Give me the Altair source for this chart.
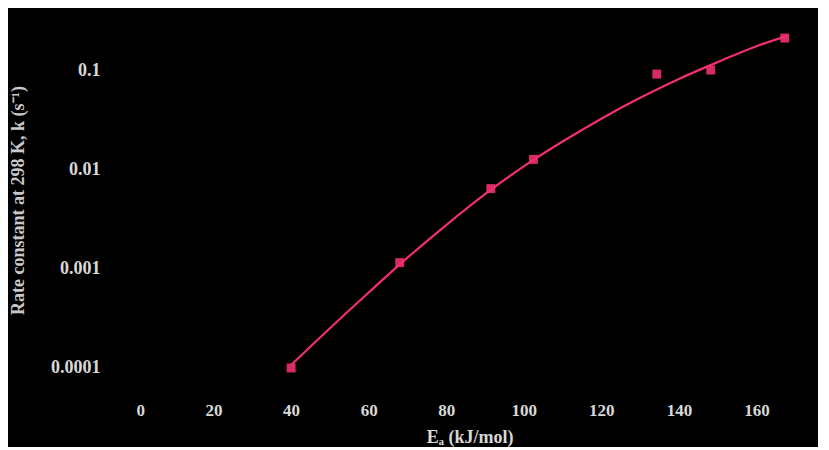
import altair as alt
import pandas as pd

# Fitted curve
curve_x = [40, 50, 60, 70, 80, 90, 100, 110, 120, 130, 140, 150, 160, 168]
curve_y = [1.07e-4, 2.51e-4, 5.75e-4, 1.29e-3, 2.75e-3, 5.62e-3, 0.01072,
           0.01905, 0.03236, 0.05248, 0.08128, 0.1202, 0.1738, 0.2208]

# Measured points
pt_x = [40, 68, 91.5, 102.5, 134.3, 148.2, 167.3]
pt_y = [1.0e-4, 1.15e-3, 6.4e-3, 0.0126, 0.091, 0.1, 0.21]

x_ticks = [0, 20, 40, 60, 80, 100, 120, 140, 160]
y_ticks = [0.0001, 0.001, 0.01, 0.1]

PINK = "#f0306e"
FONT = "Liberation Serif"

curve = pd.DataFrame({"x": curve_x, "y": curve_y})
pts = pd.DataFrame({"x": pt_x, "y": pt_y})

xs = alt.Scale(domain=[0, 172], nice=False, zero=False)
ys = alt.Scale(type="log", domain=[6e-5, 0.35], nice=False)

xax = alt.Axis(values=x_ticks, title="Eₐ (kJ/mol)", grid=False, domain=False,
               ticks=False, labelPadding=12, labelFontSize=17, labelFont=FONT,
               labelFontWeight="bold", labelColor="#d8d8d8",
               titleFont=FONT, titleFontSize=18, titleFontWeight="bold",
               titleColor="#d8d8d8", titleY=47, titleBaseline="middle")
yax = alt.Axis(values=y_ticks, format=".4~f", title="Rate constant at 298 K, k (s⁻¹)",
               grid=False, domain=False, ticks=False, labelPadding=36,
               labelFontSize=18, labelFont=FONT, labelFontWeight="bold",
               labelColor="#d8d8d8", titleFont=FONT, titleFontSize=18,
               titleFontWeight="bold", titleColor="#c8c8c8", titleAngle=270,
               titleX=-118, titleY=184, titleAlign="center",
               titleBaseline="middle")

line = alt.Chart(curve).mark_line(color=PINK, strokeWidth=2.2,
                                  interpolate="monotone").encode(
    x=alt.X("x:Q", scale=xs, axis=xax),
    y=alt.Y("y:Q", scale=ys, axis=yax),
)

points = alt.Chart(pts).mark_point(shape="square", filled=True, color=PINK,
                                   size=80, opacity=0.9).encode(
    x=alt.X("x:Q", scale=xs),
    y=alt.Y("y:Q", scale=ys),
)

chart = alt.layer(line, points).properties(
    width=667, height=374,
    background="black",
    autosize=alt.AutoSizeParams(type="none"),
    padding={"left": 128, "top": 8, "right": 15, "bottom": 57},
).configure_view(stroke=None)

chart.save("out.html", embed_options={"renderer": "svg", "actions": False})
